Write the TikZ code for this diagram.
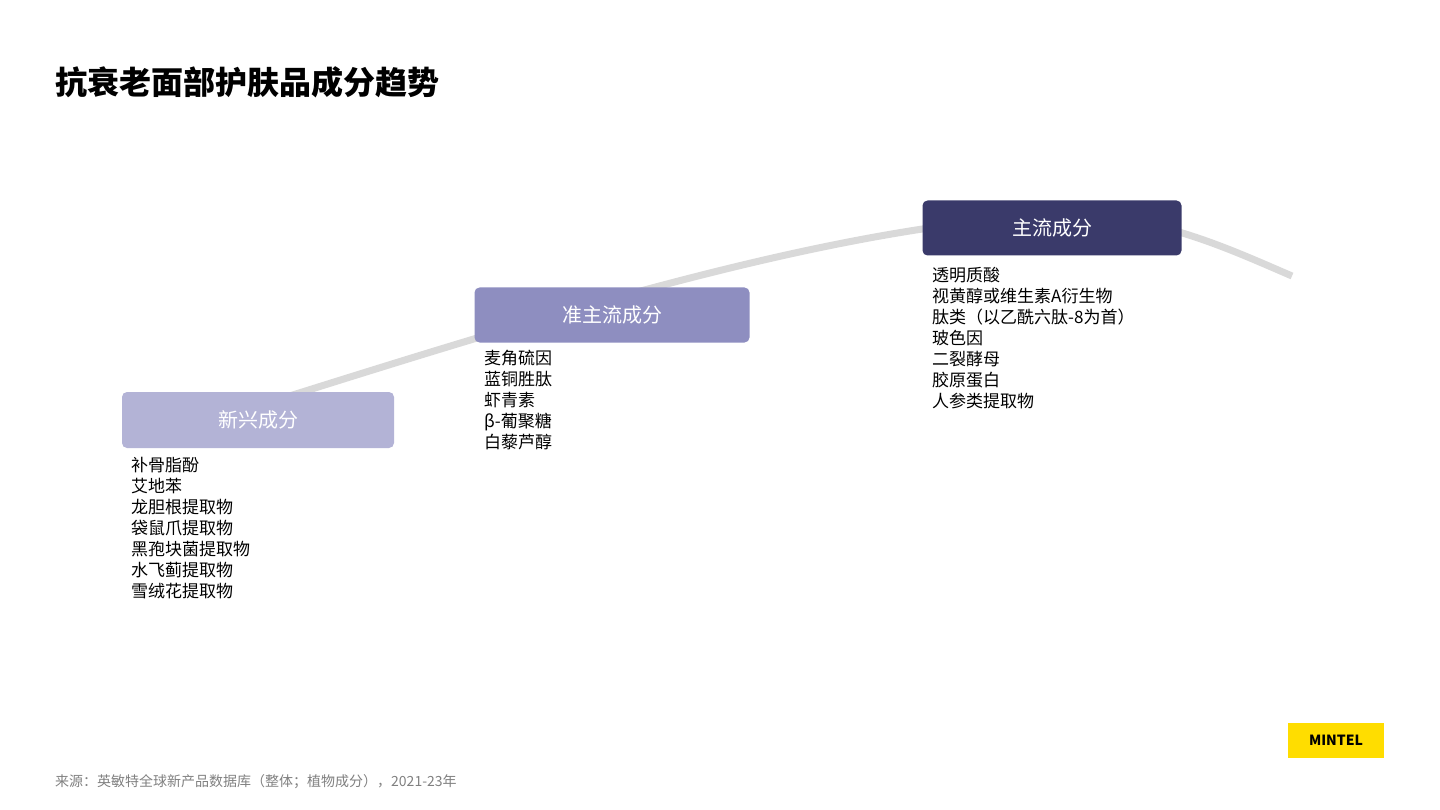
\documentclass[tikz,border=0pt]{standalone}
\usepackage{fontspec}
\setmainfont{Noto Sans CJK SC}
\usetikzlibrary{positioning}
\definecolor{stageA}{HTML}{B3B3D6}
\definecolor{stageB}{HTML}{8E8EC0}
\definecolor{stageC}{HTML}{3A3A6A}
\definecolor{curvegray}{HTML}{D9D9D9}
\definecolor{mintelyellow}{HTML}{FFDD00}
\tikzset{
  stagebox/.style={rounded corners=5pt, text=white, minimum height=56pt, inner sep=0pt,
    font=\fontsize{20}{24}\selectfont},
  itemlist/.style={align=left, anchor=north west, inner sep=0pt,
    font=\fontsize{17}{21}\selectfont}
}
\begin{document}
\begin{tikzpicture}[x=1pt, y=-1pt]
    \useasboundingbox (0,0) rectangle (1440,810);
    % Title
    \node[anchor=west, inner sep=0pt, font=\fontsize{32}{38}\selectfont\bfseries] (title) at (55,82) {抗衰老面部护肤品成分趋势};

    % Trend curve
    \draw[curvegray, line width=7pt] (150,440) .. controls (500,330) and (800,230) .. (1050,215)
        .. controls (1150,212) and (1220,245) .. (1292,276);

    % Stages
    \node[stagebox, fill=stageA, minimum width=272pt] (emerging) at (258,420) {新兴成分};
    \node[stagebox, fill=stageB, minimum width=275pt, minimum height=55pt] (rising) at (612,315) {准主流成分};
    \node[stagebox, fill=stageC, minimum width=259pt, minimum height=55pt] (mainstream) at (1052,228) {主流成分};

    % Ingredient lists
    \node[itemlist] (listA) at (131,457) {补骨脂酚\\艾地苯\\龙胆根提取物\\袋鼠爪提取物\\黑孢块菌提取物\\水飞蓟提取物\\雪绒花提取物};
    \node[itemlist] (listB) at (484,350) {麦角硫因\\蓝铜胜肽\\虾青素\\β-葡聚糖\\白藜芦醇};
    \node[itemlist] (listC) at (932,267) {透明质酸\\视黄醇或维生素A衍生物\\肽类（以乙酰六肽-8为首）\\玻色因\\二裂酵母\\胶原蛋白\\人参类提取物};

    % Footer and logo
    \node[anchor=west, inner sep=0pt, text=gray, font=\fontsize{14}{16}\selectfont] (source) at (55,782) {来源：英敏特全球新产品数据库（整体；植物成分），2021-23年};
    \node[fill=mintelyellow, minimum width=96pt, minimum height=35pt, inner sep=0pt,
      font=\fontsize{14}{16}\selectfont\bfseries] (logo) at (1336,740) {MINTEL};
\end{tikzpicture}
\end{document}
